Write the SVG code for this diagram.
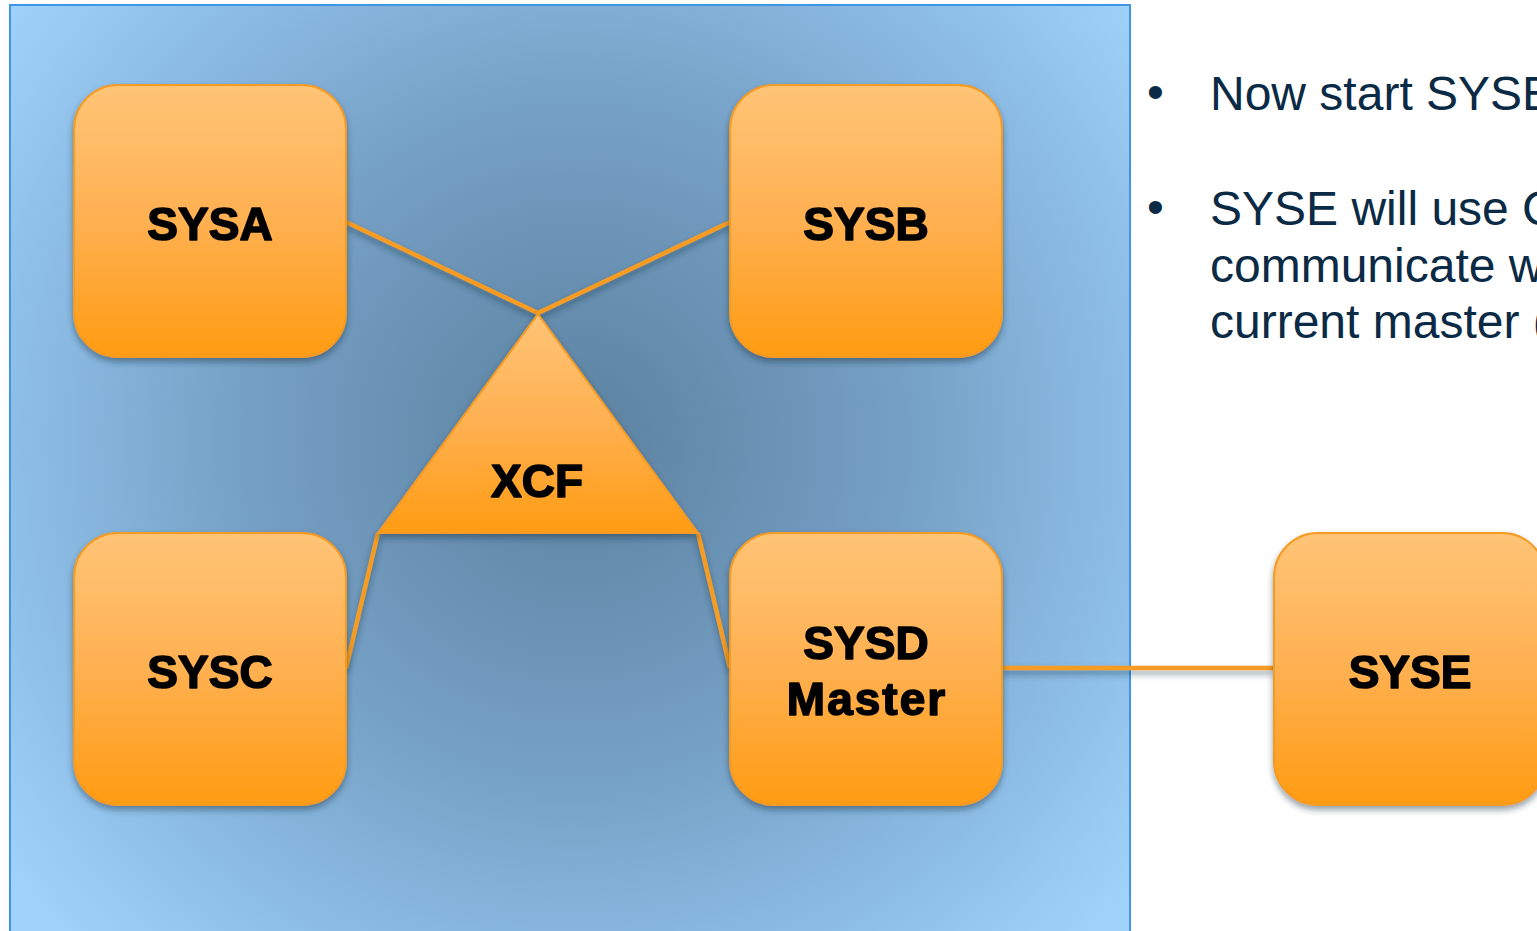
<svg xmlns="http://www.w3.org/2000/svg" width="1537" height="931" viewBox="0 0 1537 931">
  <defs>
    <radialGradient id="bg" gradientUnits="userSpaceOnUse" cx="575" cy="440" r="720">
      <stop offset="0" stop-color="#5b819f"/>
      <stop offset="0.45" stop-color="#759fc4"/>
      <stop offset="0.8" stop-color="#8fc0e9"/>
      <stop offset="1" stop-color="#a0d3fa"/>
    </radialGradient>
    <linearGradient id="orange" x1="0" y1="0" x2="0" y2="1">
      <stop offset="0" stop-color="#ffc476"/>
      <stop offset="0.5" stop-color="#ffb050"/>
      <stop offset="1" stop-color="#ff9c12"/>
    </linearGradient>
    <filter id="shadow" x="-20%" y="-20%" width="140%" height="150%">
      <feDropShadow dx="0" dy="4" stdDeviation="3" flood-color="#1d2a3a" flood-opacity="0.45"/>
    </filter>
  </defs>
  <style>
    .node { fill: url(#orange); stroke: #f59a22; stroke-width: 2; }
    .label { font-family: "Liberation Sans", Arial, sans-serif; font-weight: bold; font-size: 46px; fill: #000; stroke: #000; stroke-width: 1.6; stroke-linejoin: round; text-anchor: middle; }
    .wide { letter-spacing: 2px; }
    .link { stroke: #f79c24; stroke-width: 4.5; fill: none; }
    .note { font-family: "Liberation Sans", Arial, sans-serif; font-size: 48px; fill: #0a2a45; }
  </style>

  <rect width="1537" height="931" fill="#ffffff"/>
  <!-- sysplex frame -->
  <rect x="10" y="5" width="1120" height="935" fill="url(#bg)" stroke="#3f95e6" stroke-width="2"/>

  <!-- connectors -->
  <g id="connectors" filter="url(#shadow)">
    <line class="link" x1="346" y1="222" x2="538" y2="313"/>
    <line class="link" x1="730" y1="222" x2="538" y2="313"/>
    <line class="link" x1="378" y1="533" x2="346" y2="668"/>
    <line class="link" x1="698" y1="533" x2="730" y2="668"/>
    <line class="link" x1="1002" y1="668" x2="1274" y2="668"/>
  </g>

  <g id="xcf" filter="url(#shadow)">
    <polygon class="node" points="538,314 698,533 378,533"/>
    <text class="label" x="537" y="497">XCF</text>
  </g>

  <g id="sysa" filter="url(#shadow)">
    <rect class="node" x="74" y="85" width="272" height="272" rx="44"/>
    <text class="label" x="210" y="240">SYSA</text>
  </g>

  <g id="sysb" filter="url(#shadow)">
    <rect class="node" x="730" y="85" width="272" height="272" rx="44"/>
    <text class="label" x="866" y="240">SYSB</text>
  </g>

  <g id="sysc" filter="url(#shadow)">
    <rect class="node" x="74" y="533" width="272" height="272" rx="44"/>
    <text class="label" x="210" y="688">SYSC</text>
  </g>

  <g id="sysd" filter="url(#shadow)">
    <rect class="node" x="730" y="533" width="272" height="272" rx="44"/>
    <text class="label" x="866" y="659">SYSD</text>
    <text class="label wide" x="867" y="715">Master</text>
  </g>

  <g id="syse" filter="url(#shadow)">
    <rect class="node" x="1274" y="533" width="272" height="272" rx="44"/>
    <text class="label" x="1410" y="688">SYSE</text>
  </g>

  <!-- notes -->
  <g id="notes">
    <text class="note" x="1147" y="108">•</text>
    <text class="note" x="1210" y="110">Now start SYSE</text>
    <text class="note" x="1147" y="223">•</text>
    <text class="note" x="1210" y="225">SYSE will use CTC</text>
    <text class="note" x="1210" y="282">communicate with</text>
    <text class="note" x="1210" y="338">current master (SYSD)</text>
  </g>
</svg>
